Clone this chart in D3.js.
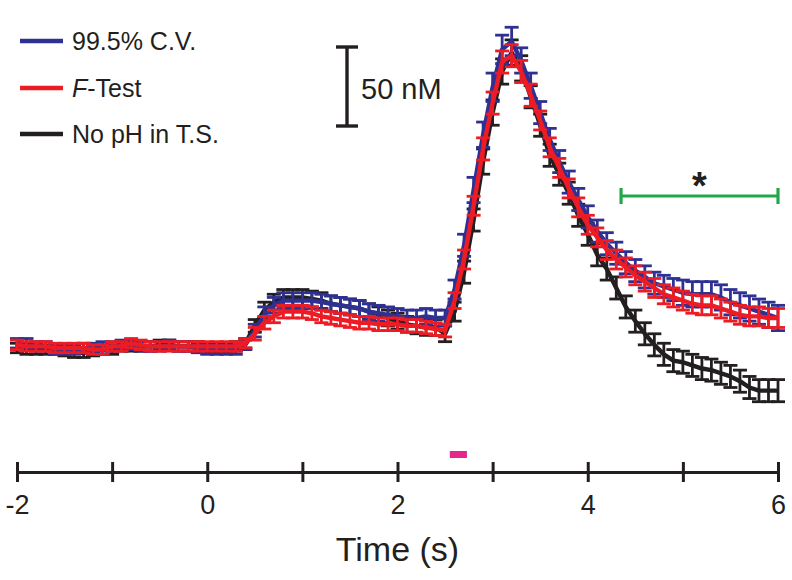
<!DOCTYPE html>
<html>
<head>
<meta charset="utf-8">
<script src="https://cdn.jsdelivr.net/npm/d3@7"></script>
<style>
  html, body { margin: 0; padding: 0; background: #fff; }
  svg { display: block; font-family: "Liberation Sans", Arial, Helvetica, sans-serif; }
</style>
</head>
<body>
<svg id="chart" width="792" height="580"></svg>
<script>
// ---- data ----
const time = [-2.0,-1.9,-1.8,-1.7,-1.6,-1.5,-1.4,-1.3,-1.2,-1.1,
  -1.0,-0.9,-0.8,-0.7,-0.6,-0.5,-0.4,-0.3,-0.2,-0.1,
  0.0,0.1,0.2,0.3,0.4,0.5,0.6,0.7,0.8,0.9,
  1.0,1.1,1.2,1.3,1.4,1.5,1.6,1.7,1.8,1.9,
  2.0,2.1,2.2,2.3,2.4,2.5,2.6,2.7,2.8,2.9,
  3.0,3.1,3.2,3.3,3.4,3.5,3.6,3.7,3.8,3.9,
  4.0,4.1,4.2,4.3,4.4,4.5,4.6,4.7,4.8,4.9,
  5.0,5.1,5.2,5.3,5.4,5.5,5.6,5.7,5.8,5.9,
  6.0];

// No pH in T.S. (nM)
const noPH = [0,-1,-1,-1,-1,-2,-3,-3,-2,-1,
  -1,1,1,1,1,2,2,1,1,1,
  0,0,0,1,3,14,24,29,32,32,
  32,31,30,28,27,26,25,23,21,19,
  17,15,14,13,13,9,23,48,81,118,
  149,175,187,177,159,141,122,110,98,84,
  72,59,50,38,26,17,9,2,-4,-8,
  -9,-11,-13,-14,-16,-18,-21,-25,-27,-27,
  -27];
const noPHErr = [3,3,3,3,3,3,3,3,3,3,
  3,3,3,3,3,3,3,3,3,3,
  3,3,3,3,3,4,5,5,5,5,
  5,5,5,5,5,5,5,5,5,5,
  5,5,5,5,5,5,6,7,7,8,
  8,8,8,8,7,7,7,7,7,7,
  7,7,7,7,7,7,7,7,7,7,
  7,7,7,7,7,7,7,7,7,7,
  7];

// 99.5% C.V. (nM)
const cv = [3,3,1,1,-1,-1,-1,0,0,1,
  1,2,2,1,1,1,2,1,1,0,
  -1,-1,-1,-1,2,11,21,27,30,30,
  30,30,29,28,27,26,25,23,22,21,
  20,19,19,20,19,19,37,65,100,135,
  165,189,194,182,166,149,132,118,105,94,
  83,74,66,60,54,49,45,41,39,37,
  35,34,34,34,32,29,27,25,23,21,
  19];
const cvErr = [3,3,3,3,3,3,3,3,3,3,
  3,3,3,3,3,3,3,3,3,3,
  3,3,3,3,3,4,5,5,5,5,
  5,5,5,5,5,5,5,5,5,5,
  5,5,5,5,5,5,6,7,8,8,
  9,9,9,8,8,7,7,7,7,7,
  7,7,7,7,7,7,7,7,7,7,
  8,8,8,8,8,8,8,8,8,8,
  8];

// F-Test (nM)
const fTest = [2,1,1,1,0,0,0,0,-1,-1,
  1,1,3,2,1,1,1,1,1,1,
  1,1,1,1,3,9,16,20,23,23,
  23,22,20,19,18,17,16,16,15,15,
  15,14,14,13,12,11,30,56,90,126,
  155,181,185,175,160,144,127,114,101,89,
  78,70,62,56,51,46,42,38,34,32,
  30,28,27,27,25,23,21,20,20,19,
  19];
const fTestErr = [3,3,3,3,3,3,3,3,3,3,
  3,3,3,3,3,3,3,3,3,3,
  3,3,3,3,3,4,4,4,4,4,
  4,4,4,4,4,4,4,4,4,4,
  4,4,4,4,4,4,5,6,6,7,
  7,7,7,7,7,6,6,6,6,6,
  6,6,6,6,6,6,6,6,6,6,
  6,6,6,6,6,6,6,6,6,6,
  6];

const xTicks = [-2,-1,0,1,2,3,4,5,6];
const xTickLabels = ["-2","","0","","2","","4","","6"];
const seriesNames = ["99.5% C.V.", "F-Test", "No pH in T.S."];
const seriesColors = ["#2e3192", "#ed1c24", "#231f20"];
const stimulus = [2.55, 2.73];       // s
const sigWindow = [4.35, 6.0];       // s
const scaleBarNM = 50;

// ---- scales ----
const svg = d3.select("#chart");
const x = d3.scaleLinear().domain([-2, 6]).range([17, 778]);
const y = d3.scaleLinear().domain([0, 50]).range([348, 269]);

const seriesData = [
  {name: seriesNames[2], color: seriesColors[2], v: noPH, e: noPHErr},
  {name: seriesNames[0], color: seriesColors[0], v: cv, e: cvErr},
  {name: seriesNames[1], color: seriesColors[1], v: fTest, e: fTestErr}
];

const line = d3.line().x(d => x(d[0])).y(d => y(d[1]));
const capW = 7;

seriesData.forEach(s => {
  const pts = time.map((t, i) => ({t, v: s.v[i], e: s.e[i]}));
  const g = svg.append("g").attr("stroke", s.color).attr("stroke-width", 2.8).attr("fill", "none");
  const bars = g.selectAll("g").data(pts).join("g");
  bars.append("line")
    .attr("x1", d => x(d.t)).attr("x2", d => x(d.t))
    .attr("y1", d => y(d.v - d.e)).attr("y2", d => y(d.v + d.e));
  bars.append("line")
    .attr("x1", d => x(d.t) - capW).attr("x2", d => x(d.t) + capW)
    .attr("y1", d => y(d.v + d.e)).attr("y2", d => y(d.v + d.e));
  bars.append("line")
    .attr("x1", d => x(d.t) - capW).attr("x2", d => x(d.t) + capW)
    .attr("y1", d => y(d.v - d.e)).attr("y2", d => y(d.v - d.e));
  svg.append("path")
    .datum(time.map((t, i) => [t, s.v[i]]))
    .attr("d", line)
    .attr("fill", "none")
    .attr("stroke", s.color)
    .attr("stroke-width", 4.4)
    .attr("stroke-linejoin", "round");
});

// ---- x axis ----
const axisY = 472;
const axis = d3.axisBottom(x)
  .tickValues(xTicks)
  .tickFormat((d, i) => xTickLabels[i])
  .tickSize(10)
  .tickSizeOuter(0);
const ax = svg.append("g").attr("transform", `translate(0,${axisY})`).call(axis);
ax.select(".domain").attr("stroke", "#231f20").attr("stroke-width", 3);
ax.selectAll(".tick line").attr("stroke", "#231f20").attr("stroke-width", 3).attr("y1", -10).attr("y2", 10);
ax.selectAll(".tick text")
  .attr("fill", "#231f20")
  .attr("font-size", 27)
  .attr("font-family", "Liberation Sans, Arial, sans-serif")
  .attr("y", 23).attr("dy", "0.71em");

svg.append("text")
  .attr("x", x(2)).attr("y", 561)
  .attr("text-anchor", "middle")
  .attr("font-size", 34)
  .attr("fill", "#231f20")
  .text("Time (s)");

// ---- stimulus marker ----
svg.append("rect")
  .attr("x", x(stimulus[0])).attr("y", 451)
  .attr("width", x(stimulus[1]) - x(stimulus[0])).attr("height", 7)
  .attr("fill", "#e6268d");

// ---- significance bar ----
const sigY = 196;
const sg = svg.append("g").attr("stroke", "#22a84a").attr("stroke-width", 3.2);
sg.append("line").attr("x1", x(sigWindow[0])).attr("x2", x(sigWindow[1])).attr("y1", sigY).attr("y2", sigY);
sg.append("line").attr("x1", x(sigWindow[0])).attr("x2", x(sigWindow[0])).attr("y1", sigY - 8).attr("y2", sigY + 8);
sg.append("line").attr("x1", x(sigWindow[1])).attr("x2", x(sigWindow[1])).attr("y1", sigY - 8).attr("y2", sigY + 8);
svg.append("text")
  .attr("x", (x(sigWindow[0]) + x(sigWindow[1])) / 2).attr("y", 199)
  .attr("text-anchor", "middle")
  .attr("font-size", 38).attr("font-weight", "bold")
  .attr("fill", "#231f20")
  .text("*");

// ---- scale bar ----
const sbX = 347, sbTop = 47;
const sbBottom = sbTop + (y(0) - y(scaleBarNM));
const sb = svg.append("g").attr("stroke", "#231f20").attr("stroke-width", 3.4);
sb.append("line").attr("x1", sbX).attr("x2", sbX).attr("y1", sbTop).attr("y2", sbBottom);
sb.append("line").attr("x1", sbX - 11).attr("x2", sbX + 11).attr("y1", sbTop).attr("y2", sbTop);
sb.append("line").attr("x1", sbX - 11).attr("x2", sbX + 11).attr("y1", sbBottom).attr("y2", sbBottom);
svg.append("text")
  .attr("x", 361).attr("y", 99)
  .attr("font-size", 29)
  .attr("fill", "#231f20")
  .text(scaleBarNM + " nM");

// ---- legend ----
const legendItems = [
  {label: seriesNames[0], color: seriesColors[0]},
  {label: seriesNames[1], color: seriesColors[1]},
  {label: seriesNames[2], color: seriesColors[2]}
];
const legY = [41, 88, 134];
legendItems.forEach((it, i) => {
  svg.append("line")
    .attr("x1", 20).attr("x2", 63).attr("y1", legY[i]).attr("y2", legY[i])
    .attr("stroke", it.color).attr("stroke-width", 4.4);
  const t = svg.append("text")
    .attr("x", 72).attr("y", legY[i] + 9)
    .attr("font-size", 25)
    .attr("fill", "#231f20");
  if (it.label === "F-Test") {
    t.append("tspan").attr("font-style", "italic").text("F");
    t.append("tspan").text("-Test");
  } else {
    t.text(it.label);
  }
});
</script>
</body>
</html>
